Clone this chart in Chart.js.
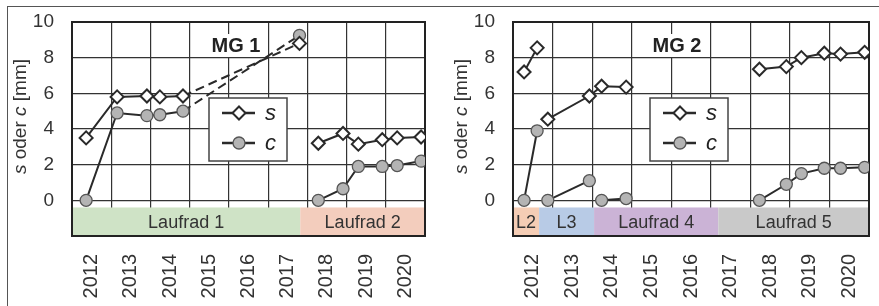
<!DOCTYPE html>
<html lang="de">
<head>
<meta charset="UTF-8">
<title>MG 1 / MG 2 – s oder c</title>
<script src="https://cdn.jsdelivr.net/npm/chart.js"></script>
<style>
  body { margin: 0; background: #fff; }
  #wrap { position: relative; width: 879px; height: 306px; overflow: hidden; background: #fff; }
  #frame { position: absolute; left: 7px; top: 6px; width: 900px; height: 320px;
           border-top: 1.5px solid #555; border-left: 1.5px solid #555; }
  .box { position: absolute; top: 0; height: 306px; }
  #b1 { left: 0; width: 440px; }
  #b2 { left: 440px; width: 439px; }
</style>
</head>
<body>
<div id="wrap">
  <div id="frame"></div>
  <div class="box" id="b1"><canvas id="mg1" width="440" height="306"></canvas></div>
  <div class="box" id="b2"><canvas id="mg2" width="439" height="306"></canvas></div>
</div>

<script>
  // ---- MG 1 ----
  const mg1L1Years = [2012.36, 2013.15, 2013.91, 2014.24, 2014.83];
  const mg1L1S = [3.5, 5.8, 5.85, 5.8, 5.85];
  const mg1L1C = [0, 4.9, 4.75, 4.8, 5.0];
  const mg1EndYear = [2017.8];
  const mg1EndS = [8.8];
  const mg1EndC = [9.25];
  const mg1L2Years = [2018.28, 2018.91, 2019.3, 2019.91, 2020.29, 2020.9];
  const mg1L2S = [3.2, 3.75, 3.15, 3.4, 3.5, 3.55];
  const mg1L2C = [0, 0.65, 1.9, 1.9, 1.95, 2.2];
  const mg1Bands = ['Laufrad 1', 'Laufrad 2'];
  const mg1BandEdges = [2012, 2017.82, 2021];

  // ---- MG 2 ----
  const mg2L2Years = [2012.28, 2012.61];
  const mg2L2S = [7.2, 8.55];
  const mg2L2C = [0, 3.9];
  const mg2L3Years = [2012.88, 2013.93];
  const mg2L3S = [4.55, 5.85];
  const mg2L3C = [0, 1.1];
  const mg2L4Years = [2014.24, 2014.86];
  const mg2L4S = [6.4, 6.35];
  const mg2L4C = [0, 0.1];
  const mg2L5Years = [2018.23, 2018.91, 2019.29, 2019.87, 2020.28, 2020.89];
  const mg2L5S = [7.35, 7.5, 8.0, 8.25, 8.2, 8.3];
  const mg2L5C = [0, 0.9, 1.5, 1.8, 1.8, 1.85];
  const mg2Bands = ['L2', 'L3', 'Laufrad 4', 'Laufrad 5'];
  const mg2BandEdges = [2012, 2012.66, 2014.05, 2017.19, 2021];

  const years = [2012, 2013, 2014, 2015, 2016, 2017, 2018, 2019, 2020];
  const yTicks = [0, 2, 4, 6, 8, 10];

  const FONT = "'Liberation Sans', Arial, sans-serif";
  const INK = '#2a2a2a';

  const pts = (xs, ys) => xs.map((x, i) => ({ x: x, y: ys[i] }));
  const gap = x => [{ x: x, y: null }];

  function sSet(data, dashTo) {
    return {
      label: 's', data: data,
      borderColor: INK, borderWidth: 2, tension: 0, spanGaps: false,
      pointStyle: 'rectRot', pointRadius: 6.5, pointBorderWidth: 2,
      pointBackgroundColor: '#fff', pointBorderColor: INK,
      segment: { borderDash: c => (dashTo !== undefined && c.p1DataIndex === dashTo) ? [9, 5] : undefined }
    };
  }
  function cSet(data, dashTo) {
    return {
      label: 'c', data: data,
      borderColor: INK, borderWidth: 2, tension: 0, spanGaps: false,
      pointStyle: 'circle', pointRadius: 6, pointBorderWidth: 1.3,
      pointBackgroundColor: '#b4b4b4', pointBorderColor: '#555',
      segment: { borderDash: c => (dashTo !== undefined && c.p1DataIndex === dashTo) ? [9, 5] : undefined }
    };
  }

  const bandColors = {
    'Laufrad 1': '#cfe3c6', 'Laufrad 2': '#f3cdbd', 'L2': '#f5cdb5',
    'L3': '#b8cbe6', 'Laufrad 4': '#cbb3d6', 'Laufrad 5': '#c9c9c9'
  };

  function diamond(ctx, x, y, r) {
    ctx.beginPath();
    ctx.moveTo(x, y - r); ctx.lineTo(x + r, y); ctx.lineTo(x, y + r); ctx.lineTo(x - r, y);
    ctx.closePath();
    ctx.fillStyle = '#fff'; ctx.fill();
    ctx.lineWidth = 2; ctx.strokeStyle = INK; ctx.stroke();
  }
  function dot(ctx, x, y, r) {
    ctx.beginPath(); ctx.arc(x, y, r, 0, Math.PI * 2);
    ctx.fillStyle = '#b4b4b4'; ctx.fill();
    ctx.lineWidth = 1.3; ctx.strokeStyle = '#555'; ctx.stroke();
  }

  const decor = {
    id: 'decor',
    beforeDatasetsDraw(chart, args, opts) {
      const { ctx, chartArea: a, scales: { x, y } } = chart;
      ctx.save();
      // Laufrad-Bänder
      const top = y.getPixelForValue(-0.4), bot = y.getPixelForValue(-2);
      opts.bands.forEach((name, i) => {
        const x0 = x.getPixelForValue(opts.edges[i]), x1 = x.getPixelForValue(opts.edges[i + 1]);
        ctx.fillStyle = bandColors[name];
        ctx.fillRect(x0, top, x1 - x0, bot - top);
        ctx.fillStyle = '#333';
        ctx.font = '18px ' + FONT;
        ctx.textAlign = 'center'; ctx.textBaseline = 'middle';
        ctx.fillText(name, (x0 + x1) / 2, (top + bot) / 2 + 1);
      });
      // Rahmen
      ctx.lineWidth = 2; ctx.strokeStyle = '#222';
      ctx.strokeRect(a.left, a.top, a.right - a.left, a.bottom - a.top);
      // y-Achsentitel mit kursiven Grössen
      const parts = [['s', 'italic '], [' oder ', ''], ['c', 'italic '], [' [mm]', '']];
      ctx.translate(a.left - 51, y.getPixelForValue(4.7));
      ctx.rotate(-Math.PI / 2);
      let w = 0;
      parts.forEach(p => { ctx.font = p[1] + '19px ' + FONT; w += ctx.measureText(p[0]).width; });
      let cx = -w / 2;
      ctx.textAlign = 'left'; ctx.textBaseline = 'middle'; ctx.fillStyle = '#333';
      parts.forEach(p => { ctx.font = p[1] + '19px ' + FONT; ctx.fillText(p[0], cx, 0); cx += ctx.measureText(p[0]).width; });
      ctx.restore();
    },
    afterDatasetsDraw(chart, args, opts) {
      const { ctx, chartArea: a } = chart;
      ctx.save();
      // Titel
      ctx.font = 'bold 20px ' + FONT;
      const tw = ctx.measureText(opts.title).width;
      const tx = a.left + 164, ty = a.top + 24;
      ctx.fillStyle = '#fff';
      ctx.fillRect(tx - tw / 2 - 4, ty - 12, tw + 8, 23);
      ctx.fillStyle = '#222'; ctx.textAlign = 'center'; ctx.textBaseline = 'middle';
      ctx.fillText(opts.title, tx, ty);
      // Legende
      const lx = a.left + 137, ly = a.top + 76;
      ctx.fillStyle = '#fff'; ctx.fillRect(lx, ly, 78, 63);
      ctx.lineWidth = 1.5; ctx.strokeStyle = '#444'; ctx.strokeRect(lx, ly, 78, 63);
      [[15, 's', diamond, 6.5], [45, 'c', dot, 6]].forEach(r => {
        const yy = ly + r[0];
        ctx.beginPath(); ctx.moveTo(lx + 13, yy); ctx.lineTo(lx + 46, yy);
        ctx.lineWidth = 2.5; ctx.strokeStyle = INK; ctx.stroke();
        r[2](ctx, lx + 30, yy, r[3]);
        ctx.fillStyle = '#222'; ctx.font = 'italic 22px ' + FONT;
        ctx.textAlign = 'left'; ctx.textBaseline = 'middle';
        ctx.fillText(r[1], lx + 56, yy + 1);
      });
      ctx.restore();
    }
  };

  function noPad(s) {
    s.paddingLeft = 0; s.paddingRight = 0; s.paddingTop = 0; s.paddingBottom = 0;
  }

  function makeChart(id, datasets, title, bands, edges, padRight) {
    new Chart(document.getElementById(id), {
      type: 'line',
      data: { datasets: datasets },
      plugins: [decor],
      options: {
        responsive: false,
        animation: false,
        layout: { padding: { top: 22, right: padRight, left: 0, bottom: 0 } },
        plugins: {
          legend: { display: false },
          tooltip: { enabled: false },
          decor: { title: title, bands: bands, edges: edges }
        },
        scales: {
          x: {
            type: 'linear', min: 2012, max: 2021,
            afterBuildTicks: s => {
              const t = [];
              years.forEach(yr => { t.push({ value: yr }); t.push({ value: yr + 0.5 }); });
              t.push({ value: 2021 });
              s.ticks = t;
            },
            afterFit: s => { s.height = 70; noPad(s); },
            border: { display: false },
            grid: {
              drawTicks: false, lineWidth: 1.2,
              color: c => (c.tick && c.tick.value % 1 === 0) ? '#333' : 'rgba(0,0,0,0)'
            },
            ticks: {
              autoSkip: false, minRotation: 90, maxRotation: 90, padding: 18,
              color: '#333', font: { family: FONT, size: 20 },
              callback: v => (v % 1 === 0.5 ? String(Math.floor(v)) : '')
            }
          },
          y: {
            min: -2, max: 10,
            afterBuildTicks: s => { s.ticks = [-2].concat(yTicks).map(v => ({ value: v })); },
            afterFit: s => { s.width = id === 'mg1' ? 72 : 73; noPad(s); },
            border: { display: false },
            grid: { drawTicks: false, lineWidth: 1.2, color: '#333' },
            ticks: {
              padding: 18, color: '#333', font: { family: FONT, size: 19 },
              callback: v => (v < 0 ? '' : String(v))
            }
          }
        }
      }
    });
  }

  // MG 1: Laufrad 1 mit gestrichelter Verbindung zum Ausbauwert
  const mg1S = pts(mg1L1Years, mg1L1S).concat(pts(mg1EndYear, mg1EndS), gap(2018), pts(mg1L2Years, mg1L2S));
  const mg1C = pts(mg1L1Years, mg1L1C).concat(pts(mg1EndYear, mg1EndC), gap(2018), pts(mg1L2Years, mg1L2C));
  makeChart('mg1', [sSet(mg1S, mg1L1Years.length), cSet(mg1C, mg1L1Years.length)],
    'MG 1', mg1Bands, mg1BandEdges, 15);

  // MG 2
  const mg2S = pts(mg2L2Years, mg2L2S).concat(gap(2012.75), pts(mg2L3Years, mg2L3S),
    pts(mg2L4Years, mg2L4S), gap(2016), pts(mg2L5Years, mg2L5S));
  const mg2C = pts(mg2L2Years, mg2L2C).concat(gap(2012.75), pts(mg2L3Years, mg2L3C),
    gap(2014.1), pts(mg2L4Years, mg2L4C), gap(2016), pts(mg2L5Years, mg2L5C));
  makeChart('mg2', [sSet(mg2S), cSet(mg2C)], 'MG 2', mg2Bands, mg2BandEdges, 10);
</script>
</body>
</html>
